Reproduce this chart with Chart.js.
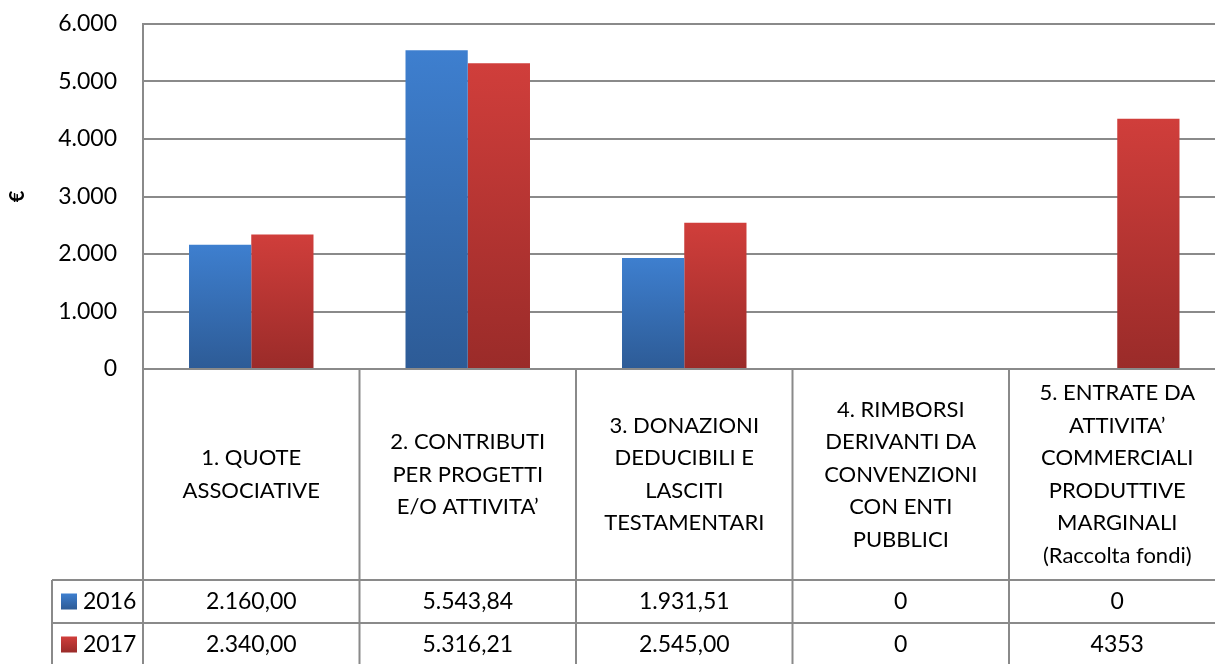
<!DOCTYPE html>
<html>
<head>
<meta charset="utf-8">
<script src="https://cdn.jsdelivr.net/npm/chart.js@4"></script>
<style>
html, body { margin: 0; padding: 0; overflow: hidden; background: #fff; }
#wrap { width: 1230px; height: 670px; position: relative; }
</style>
</head>
<body>
<div id="wrap"><canvas id="chart"></canvas></div>
<script>
const categories = [
    ['1. QUOTE', 'ASSOCIATIVE'],
    ['2. CONTRIBUTI', 'PER PROGETTI', 'E/O ATTIVITA\u2019'],
    ['3. DONAZIONI', 'DEDUCIBILI E', 'LASCITI', 'TESTAMENTARI'],
    ['4. RIMBORSI', 'DERIVANTI DA', 'CONVENZIONI', 'CON ENTI', 'PUBBLICI'],
    ['5. ENTRATE DA', 'ATTIVITA\u2019', 'COMMERCIALI', 'PRODUTTIVE', 'MARGINALI', '(Raccolta fondi)']
];
const years = ['2016', '2017'];
const values2016 = [2160.00, 5543.84, 1931.51, 0, 0];
const values2017 = [2340.00, 5316.21, 2545.00, 0, 4353];
const tableText2016 = ['2.160,00', '5.543,84', '1.931,51', '0', '0'];
const tableText2017 = ['2.340,00', '5.316,21', '2.545,00', '0', '4353'];

const FONT = 'Lato, "Open Sans", sans-serif';
const LINE = '#8a8a8a';
const blueTop = '#3e7fcf', blueBottom = '#2d5b96';
const redTop = '#d03e3b', redBottom = '#9a2b29';

// per-bar vertical gradient, lighter on top
function barGradient(top, bottom) {
    return function (context) {
        const chart = context.chart;
        const y = chart.scales.y;
        if (!chart.chartArea || !y || context.raw === undefined) return top;
        const y0 = y.getPixelForValue(0);
        const y1 = y.getPixelForValue(context.raw);
        if (Math.abs(y0 - y1) < 1) return top;
        const g = chart.ctx.createLinearGradient(0, y1, 0, y0);
        g.addColorStop(0, top);
        g.addColorStop(1, bottom);
        return g;
    };
}

function fmt(v) {
    return String(v).replace(/\B(?=(\d{3})+(?!\d))/g, '.');
}

const dataTable = {
    id: 'dataTable',
    afterDraw(chart) {
        const ctx = chart.ctx;
        const area = chart.chartArea;
        const x = chart.scales.x;
        const catW = (area.right - area.left) / categories.length;
        const bottom = chart.height;
        const headBottom = 580;
        const rowH = 43;
        const legendLeft = 52;

        ctx.save();
        ctx.strokeStyle = LINE;
        ctx.lineWidth = 2;
        ctx.beginPath();
        // axis + category separators
        for (let i = 0; i <= categories.length; i++) {
            const xx = area.left + i * catW;
            ctx.moveTo(xx, i === 0 ? area.top : area.bottom);
            ctx.lineTo(xx, bottom);
        }
        // row lines
        for (let r = 0; r < 2; r++) {
            const yy = headBottom + r * rowH;
            ctx.moveTo(legendLeft, yy);
            ctx.lineTo(area.right, yy);
        }
        ctx.moveTo(legendLeft, headBottom);
        ctx.lineTo(legendLeft, bottom);
        ctx.stroke();

        ctx.fillStyle = '#000';
        ctx.textAlign = 'center';
        ctx.textBaseline = 'middle';
        ctx.font = '22px ' + FONT;
        const lh = 32.5;
        const midHead = (area.bottom + headBottom) / 2;
        categories.forEach((lines, i) => {
            const cx = x.getPixelForValue(i);
            const start = midHead - (lines.length - 1) * lh / 2;
            lines.forEach((t, k) => ctx.fillText(t, cx, start + k * lh));
        });

        ctx.font = '23px ' + FONT;
        const rows = [tableText2016, tableText2017];
        rows.forEach((row, r) => {
            const cy = headBottom + r * rowH + rowH / 2;
            row.forEach((t, i) => ctx.fillText(t, x.getPixelForValue(i), cy));
        });

        // legend keys
        const keys = [[blueTop, blueBottom], [redTop, redBottom]];
        ctx.textAlign = 'left';
        years.forEach((yr, r) => {
            const cy = headBottom + r * rowH + rowH / 2;
            const g = ctx.createLinearGradient(0, cy - 8, 0, cy + 8);
            g.addColorStop(0, keys[r][0]);
            g.addColorStop(1, keys[r][1]);
            ctx.fillStyle = g;
            ctx.fillRect(61, cy - 8, 16, 16);
            ctx.fillStyle = '#000';
            ctx.fillText(yr, 83, cy);
        });
        ctx.restore();
    }
};

new Chart(document.getElementById('chart'), {
    type: 'bar',
    data: {
        labels: categories.map(c => c.join(' ')),
        datasets: [
            { label: years[0], data: values2016, backgroundColor: barGradient(blueTop, blueBottom) },
            { label: years[1], data: values2017, backgroundColor: barGradient(redTop, redBottom) }
        ]
    },
    options: {
        responsive: true,
        maintainAspectRatio: false,
        animation: false,
        categoryPercentage: 0.575,
        barPercentage: 1,
        layout: { padding: { top: 24, right: 4.5, bottom: 301, left: 0 } },
        plugins: {
            legend: { display: false },
            tooltip: { enabled: false }
        },
        scales: {
            x: { display: false },
            y: {
                min: 0,
                max: 6000,
                afterFit(scale) {
                    scale.width = 143;
                    scale.paddingTop = 0;
                    scale.paddingBottom = 0;
                },
                ticks: {
                    stepSize: 1000,
                    padding: 26,
                    color: '#000',
                    font: { family: FONT, size: 23 },
                    callback: v => fmt(v)
                },
                grid: { color: LINE, lineWidth: 2, drawTicks: false },
                border: { display: true, color: LINE, width: 2 },
                title: {
                    display: true,
                    text: '\u20ac',
                    color: '#000',
                    padding: { top: 6, bottom: 0 },
                    font: { family: FONT, size: 20, weight: 'bold' }
                }
            }
        }
    },
    plugins: [dataTable]
});
</script>
</body>
</html>
